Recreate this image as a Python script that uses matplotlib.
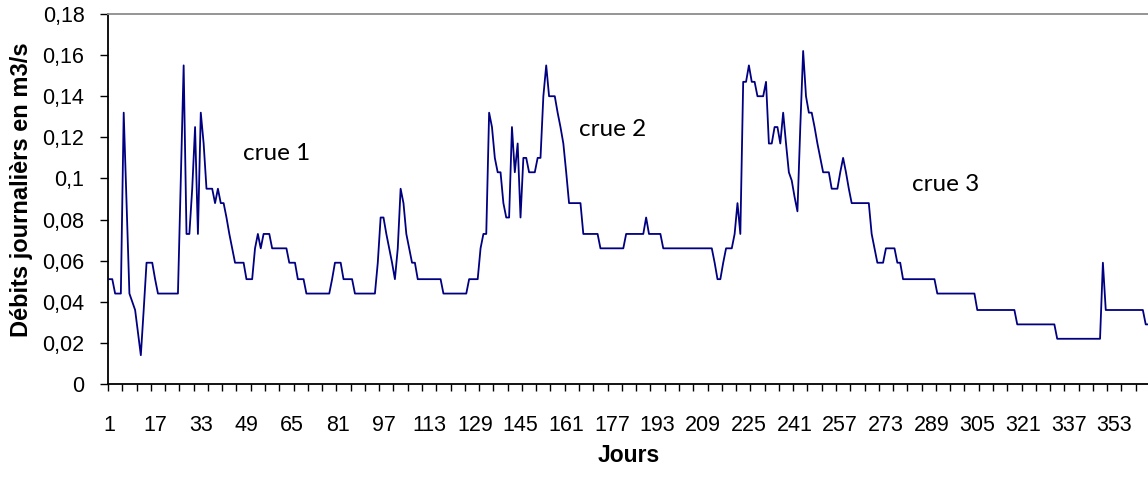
import matplotlib
matplotlib.use("Agg")
import matplotlib.pyplot as plt
import numpy as np

# débits journaliers (m3/s), jour 1 à 365
debits = [
    0.051, 0.051, 0.044, 0.044, 0.044, 0.132, 0.088, 0.044, 0.040, 0.036,
    0.025, 0.014, 0.036, 0.059, 0.059, 0.059, 0.051, 0.044, 0.044, 0.044,
    0.044, 0.044, 0.044, 0.044, 0.044, 0.100, 0.155, 0.073, 0.073, 0.095,
    0.125, 0.073, 0.132, 0.117, 0.095, 0.095, 0.095, 0.088, 0.095, 0.088,
    0.088, 0.081, 0.073, 0.066, 0.059, 0.059, 0.059, 0.059, 0.051, 0.051,
    0.051, 0.066, 0.073, 0.066, 0.073, 0.073, 0.073, 0.066, 0.066, 0.066,
    0.066, 0.066, 0.066, 0.059, 0.059, 0.059, 0.051, 0.051, 0.051, 0.044,
    0.044, 0.044, 0.044, 0.044, 0.044, 0.044, 0.044, 0.044, 0.051, 0.059,
    0.059, 0.059, 0.051, 0.051, 0.051, 0.051, 0.044, 0.044, 0.044, 0.044,
    0.044, 0.044, 0.044, 0.044, 0.059, 0.081, 0.081, 0.073, 0.066, 0.059,
    0.051, 0.066, 0.095, 0.088, 0.073, 0.066, 0.059, 0.059, 0.051, 0.051,
    0.051, 0.051, 0.051, 0.051, 0.051, 0.051, 0.051, 0.044, 0.044, 0.044,
    0.044, 0.044, 0.044, 0.044, 0.044, 0.044, 0.051, 0.051, 0.051, 0.051,
    0.066, 0.073, 0.073, 0.132, 0.125, 0.110, 0.103, 0.103, 0.088, 0.081,
    0.081, 0.125, 0.103, 0.117, 0.081, 0.110, 0.110, 0.103, 0.103, 0.103,
    0.110, 0.110, 0.140, 0.155, 0.140, 0.140, 0.140, 0.132, 0.125, 0.117,
    0.103, 0.088, 0.088, 0.088, 0.088, 0.088, 0.073, 0.073, 0.073, 0.073,
    0.073, 0.073, 0.066, 0.066, 0.066, 0.066, 0.066, 0.066, 0.066, 0.066,
    0.066, 0.073, 0.073, 0.073, 0.073, 0.073, 0.073, 0.073, 0.081, 0.073,
    0.073, 0.073, 0.073, 0.073, 0.066, 0.066, 0.066, 0.066, 0.066, 0.066,
    0.066, 0.066, 0.066, 0.066, 0.066, 0.066, 0.066, 0.066, 0.066, 0.066,
    0.066, 0.066, 0.059, 0.051, 0.051, 0.059, 0.066, 0.066, 0.066, 0.073,
    0.088, 0.073, 0.147, 0.147, 0.155, 0.147, 0.147, 0.140, 0.140, 0.140,
    0.147, 0.117, 0.117, 0.125, 0.125, 0.117, 0.132, 0.117, 0.103, 0.099,
    0.091, 0.084, 0.125, 0.162, 0.140, 0.132, 0.132, 0.125, 0.117, 0.110,
    0.103, 0.103, 0.103, 0.095, 0.095, 0.095, 0.103, 0.110, 0.103, 0.095,
    0.088, 0.088, 0.088, 0.088, 0.088, 0.088, 0.088, 0.073, 0.066, 0.059,
    0.059, 0.059, 0.066, 0.066, 0.066, 0.066, 0.059, 0.059, 0.051, 0.051,
    0.051, 0.051, 0.051, 0.051, 0.051, 0.051, 0.051, 0.051, 0.051, 0.051,
    0.044, 0.044, 0.044, 0.044, 0.044, 0.044, 0.044, 0.044, 0.044, 0.044,
    0.044, 0.044, 0.044, 0.044, 0.036, 0.036, 0.036, 0.036, 0.036, 0.036,
    0.036, 0.036, 0.036, 0.036, 0.036, 0.036, 0.036, 0.036, 0.029, 0.029,
    0.029, 0.029, 0.029, 0.029, 0.029, 0.029, 0.029, 0.029, 0.029, 0.029,
    0.029, 0.029, 0.022, 0.022, 0.022, 0.022, 0.022, 0.022, 0.022, 0.022,
    0.022, 0.022, 0.022, 0.022, 0.022, 0.022, 0.022, 0.022, 0.059, 0.036,
    0.036, 0.036, 0.036, 0.036, 0.036, 0.036, 0.036, 0.036, 0.036, 0.036,
    0.036, 0.036, 0.036, 0.029, 0.029,
]
jours = np.arange(1, len(debits) + 1)

x_labels = list(range(1, 366, 16))
y_ticks = [0, 0.02, 0.04, 0.06, 0.08, 0.1, 0.12, 0.14, 0.16, 0.18]
y_labels = ["0", "0,02", "0,04", "0,06", "0,08", "0,1", "0,12", "0,14", "0,16", "0,18"]

crues = ["crue 1", "crue 2", "crue 3"]
crues_x = [59.7, 177.4, 294]
crues_y = [0.112, 0.124, 0.097]

plt.rcParams['font.family'] = ['Liberation Sans', 'DejaVu Sans']

fig = plt.figure(figsize=(11.48, 4.79), dpi=100)
ax = fig.add_axes([108 / 1148, 1 - 384 / 479, 1042 / 1148, 370 / 479])

ax.plot(jours, debits, color='#000080', lw=1.3)

ax.set_xlim(0.5, 365.5)
ax.set_ylim(0, 0.18)

ax.set_yticks(y_ticks)
ax.set_yticklabels(y_labels, fontsize=15.5)
ax.tick_params(axis='y', direction='out', length=6, width=1, pad=11)

ax.set_xticks(x_labels)
ax.set_xticklabels([str(v) for v in x_labels], fontsize=15.5)
ax.set_xticks(np.arange(0.5, 366, 5), minor=True)
ax.tick_params(axis='x', which='major', length=0, pad=22)
ax.tick_params(axis='x', which='minor', direction='out', length=5, width=1)

ax.spines['top'].set_color('#8c8c8c')
ax.spines['top'].set_linewidth(1.3)
ax.spines['right'].set_visible(False)
ax.spines['left'].set_linewidth(1.3)
ax.spines['bottom'].set_linewidth(1.3)

ax.set_xlabel("Jours", fontsize=16.5, fontweight='bold', labelpad=6)
fig.text(22 / 1148, 1 - 190 / 479, "Débits journalièrs en m3/s", rotation=90,
         fontsize=17, fontweight='bold', ha='center', va='center')

for t, x, y in zip(crues, crues_x, crues_y):
    ax.text(x, y, t, fontsize=17.5, ha='center', va='center', family=['Lato', 'DejaVu Sans'])

fig.savefig("out.png", dpi=100)
